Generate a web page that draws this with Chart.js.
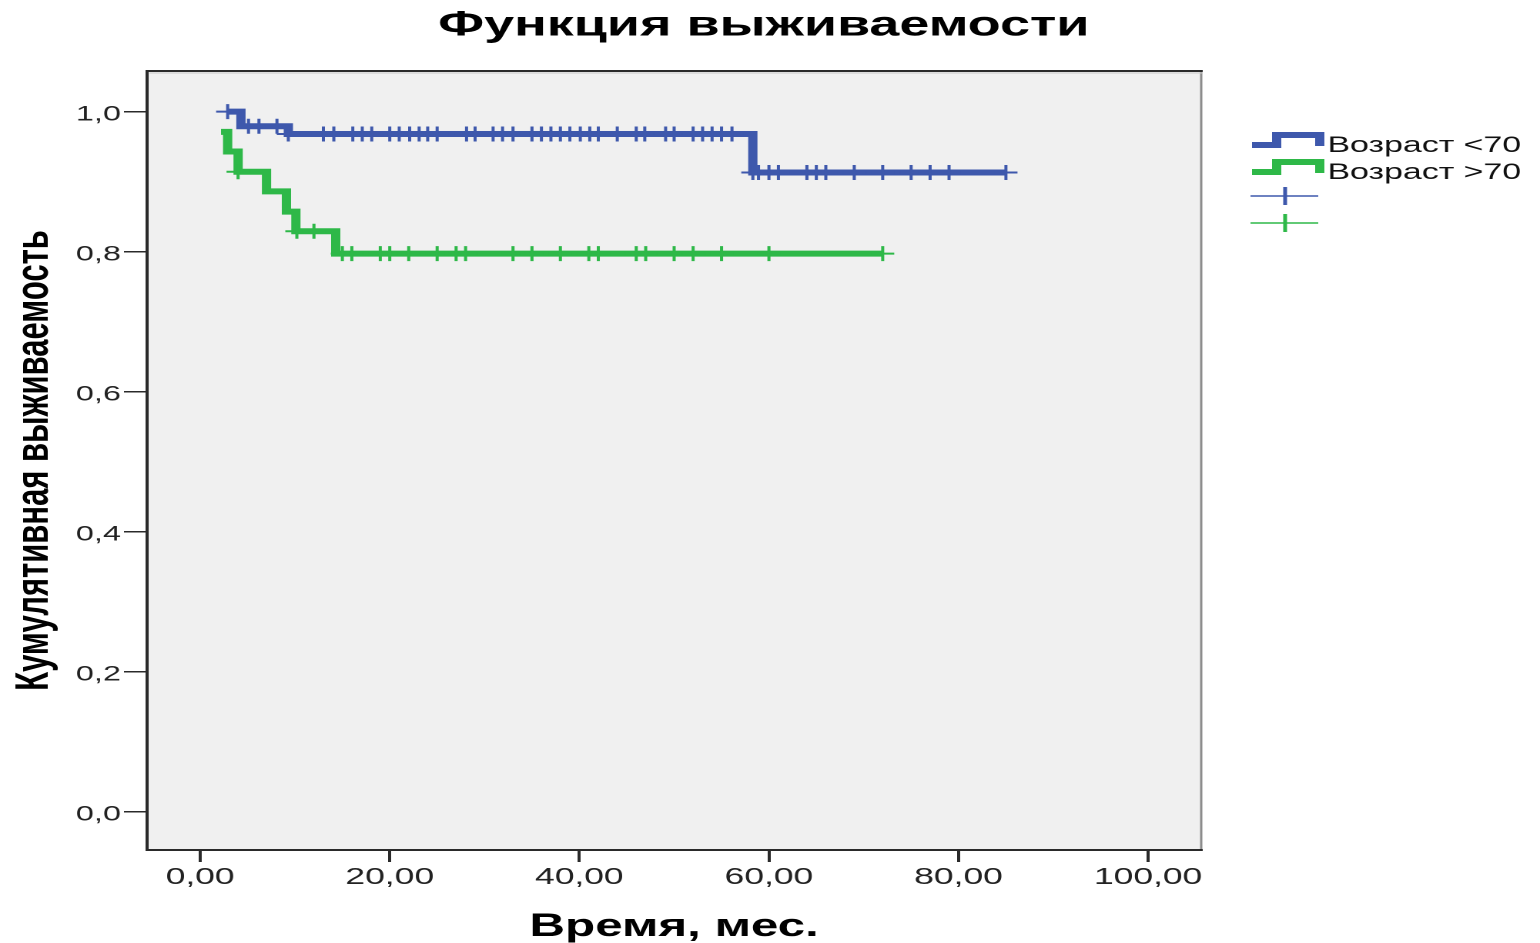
<!DOCTYPE html>
<html lang="ru">
<head>
<meta charset="utf-8">
<title>Функция выживаемости</title>
<script src="https://cdn.jsdelivr.net/npm/chart.js@4.4.1/dist/chart.umd.min.js"></script>
<style>
    html, body { margin: 0; padding: 0; background: #fff; overflow: hidden; }
    /* the original picture is stretched sideways, so the chart is drawn narrow and widened */
    #wrap { width: 1000px; height: 943px; transform: scaleX(1.54); transform-origin: 0 0; }
</style>
</head>
<body>
<div id="wrap"><canvas id="kmChart"></canvas></div>
<script>
// Kaplan-Meier steps (time, cumulative survival)
const blueTimes = [2.9, 4.3, 9.3, 58.3, 85.0];
const blueSurv = [1.0, 0.979, 0.968, 0.913, 0.913];
const blueCensored = [2.9, 5.1, 6.2, 8.1, 9.3, 13.0, 14.1, 16.1, 17.1, 18.1, 20.0, 21.0, 22.1, 23.1,
    24.0, 25.0, 28.1, 29.0, 30.9, 31.9, 33.0, 35.0, 36.0, 37.0, 38.0, 39.0, 40.1, 41.1, 42.0, 44.0,
    46.0, 46.9, 49.1, 50.0, 52.0, 53.0, 54.0, 55.0, 56.1, 58.3, 58.9, 60.0, 61.0, 64.0, 65.0, 66.0,
    69.0, 72.0, 75.0, 77.0, 79.0, 85.0];

const greenTimes = [2.2, 2.9, 4.0, 7.0, 9.1, 10.1, 14.3, 72.0];
const greenSurv = [0.971, 0.943, 0.914, 0.886, 0.857, 0.829, 0.797, 0.797];
const greenCensored = [4.0, 10.2, 12.0, 15.0, 16.0, 19.0, 20.0, 22.0, 25.0, 27.0, 28.0, 33.0, 35.0,
    38.0, 41.0, 42.0, 46.0, 47.0, 50.0, 52.0, 55.0, 60.0, 72.0];

const chartTitle = 'Функция выживаемости';
const groupLabels = ['Возраст <70', 'Возраст >70'];
const groupColors = ['#3e58ac', '#2eb848'];

const xTicks = [0, 20, 40, 60, 80, 100];
const xTickLabels = ['0,00', '20,00', '40,00', '60,00', '80,00', '100,00'];
const yTicks = [0, 0.2, 0.4, 0.6, 0.8, 1.0];
const yTickLabels = ['0,0', '0,2', '0,4', '0,6', '0,8', '1,0'];

Chart.defaults.font.family = '"Liberation Sans", Arial, sans-serif';
Chart.defaults.color = '#1a1a1a';

// survival level of a step curve at time t
function levelAt(times, surv, t) {
    let s = surv[0];
    times.forEach((ti, i) => { if (ti <= t) s = surv[i]; });
    return s;
}

function stepData(times, surv) {
    return times.map((t, i) => ({ x: t, y: surv[i] }));
}

function censorData(times, surv, censored) {
    return censored.map(t => ({ x: t, y: levelAt(times, surv, t) }));
}

// grey plot background and the frame round it
const plotFrame = {
    id: 'plotFrame',
    beforeDraw(chart) {
        const { ctx, chartArea: a } = chart;
        ctx.save();
        ctx.fillStyle = '#f0f0f0';
        ctx.fillRect(a.left, a.top, a.width, a.height);
        ctx.restore();
    },
    afterDatasetsDraw(chart) {
        const { ctx, chartArea: a } = chart;
        ctx.save();
        ctx.lineCap = 'square';
        ctx.strokeStyle = '#8c8c8c';
        ctx.lineWidth = 1.5;
        ctx.beginPath();
        ctx.moveTo(a.right, a.top);
        ctx.lineTo(a.right, a.bottom);
        ctx.stroke();
        ctx.strokeStyle = '#c8c8c8';
        ctx.lineWidth = 1;
        ctx.beginPath();
        ctx.moveTo(a.left + 2, a.top + 2);
        ctx.lineTo(a.right, a.top + 2);
        ctx.stroke();
        ctx.strokeStyle = '#2a2a2a';
        ctx.lineWidth = 2;
        ctx.beginPath();
        ctx.moveTo(a.right, a.top);
        ctx.lineTo(a.left, a.top);
        ctx.lineTo(a.left, a.bottom);
        ctx.lineTo(a.right, a.bottom);
        ctx.stroke();
        ctx.restore();
    }
};

// title centred on the whole picture (the built-in one would skip the legend strip)
const pageTitle = {
    id: 'pageTitle',
    afterDraw(chart) {
        const ctx = chart.ctx;
        ctx.save();
        ctx.fillStyle = '#000';
        ctx.font = 'bold 35px "Liberation Sans", Arial, sans-serif';
        ctx.textAlign = 'center';
        ctx.textBaseline = 'middle';
        ctx.fillText(chartTitle, 496, 26);
        ctx.restore();
    }
};

// SPSS-like legend: step icons with group names, then the censor crosses
const kmLegend = {
    id: 'kmLegend',
    afterDraw(chart) {
        const ctx = chart.ctx;
        const x0 = 813;
        ctx.save();
        ctx.lineJoin = 'miter';
        groupLabels.forEach((label, i) => {
            const y = 145 + i * 27;
            ctx.strokeStyle = groupColors[i];
            ctx.lineWidth = 6;
            ctx.beginPath();
            ctx.moveTo(x0, y);
            ctx.lineTo(x0 + 16, y);
            ctx.lineTo(x0 + 16, y - 10);
            ctx.lineTo(x0 + 44, y - 10);
            ctx.lineTo(x0 + 44, y + 1);
            ctx.stroke();
            ctx.fillStyle = '#111';
            ctx.font = '22px "Liberation Sans", Arial, sans-serif';
            ctx.textBaseline = 'alphabetic';
            ctx.fillText(label, x0 + 49, y + 7);
        });
        groupColors.forEach((color, i) => {
            const y = 196 + i * 27;
            ctx.strokeStyle = color;
            ctx.lineWidth = 1.5;
            ctx.beginPath();
            ctx.moveTo(x0 - 1, y);
            ctx.lineTo(x0 + 43, y);
            ctx.stroke();
            ctx.lineWidth = 2.5;
            ctx.beginPath();
            ctx.moveTo(x0 + 21.5, y - 9);
            ctx.lineTo(x0 + 21.5, y + 9);
            ctx.stroke();
        });
        ctx.restore();
    }
};

const lineStyle = {
    stepped: 'before',
    borderWidth: 6,
    borderJoinStyle: 'miter',
    pointRadius: 0,
    fill: false,
    order: 2
};

const crossStyle = {
    showLine: false,
    pointStyle: 'cross',
    pointRadius: 7.5,
    pointBorderWidth: 2,
    order: 1
};

const ctx = document.getElementById('kmChart').getContext('2d');
new Chart(ctx, {
    type: 'line',
    data: {
        datasets: [
            {
                ...lineStyle,
                label: groupLabels[0],
                data: stepData(blueTimes, blueSurv),
                borderColor: groupColors[0]
            },
            {
                ...lineStyle,
                label: groupLabels[1],
                data: stepData(greenTimes, greenSurv),
                borderColor: groupColors[1]
            },
            {
                ...crossStyle,
                label: '',
                data: censorData(blueTimes, blueSurv, blueCensored),
                borderColor: groupColors[0],
                backgroundColor: groupColors[0]
            },
            {
                ...crossStyle,
                label: '',
                data: censorData(greenTimes, greenSurv, greenCensored),
                borderColor: groupColors[1],
                backgroundColor: groupColors[1]
            }
        ]
    },
    options: {
        responsive: true,
        maintainAspectRatio: false,
        animation: false,
        devicePixelRatio: 2,
        layout: {
            padding: { left: 0, right: 220, top: 71, bottom: 0 }
        },
        plugins: {
            legend: { display: false },
            tooltip: { enabled: false },
            title: { display: false }
        },
        scales: {
            x: {
                type: 'linear',
                min: -5.6,
                max: 105.6,
                afterBuildTicks: scale => { scale.ticks = xTicks.map(v => ({ value: v })); },
                afterFit: scale => { scale.height = 93; },
                ticks: {
                    includeBounds: false,
                    padding: 2,
                    font: { size: 23 },
                    color: '#222',
                    callback: (value, index) => xTickLabels[index]
                },
                grid: {
                    drawOnChartArea: false,
                    drawTicks: true,
                    tickLength: 12,
                    lineWidth: 2,
                    color: '#2a2a2a'
                },
                border: { display: false },
                title: {
                    display: true,
                    text: 'Время, мес.',
                    color: '#000',
                    font: { size: 32, weight: 'bold', lineHeight: 1 },
                    padding: { top: 0, bottom: 0 }
                }
            },
            y: {
                type: 'linear',
                min: -0.055,
                max: 1.058,
                afterBuildTicks: scale => { scale.ticks = yTicks.map(v => ({ value: v })); },
                afterFit: scale => { scale.width = 95.5; },
                ticks: {
                    includeBounds: false,
                    padding: 2,
                    labelOffset: 3,
                    font: { size: 21 },
                    color: '#222',
                    callback: (value, index) => yTickLabels[index]
                },
                grid: {
                    drawOnChartArea: false,
                    drawTicks: true,
                    tickLength: 15,
                    lineWidth: 1.5,
                    color: '#2a2a2a'
                },
                border: { display: false },
                title: {
                    display: true,
                    text: 'Кумулятивная выживаемость',
                    color: '#000',
                    font: { size: 31, weight: 'bold', lineHeight: 1.2 },
                    padding: { top: 4, bottom: 0 }
                }
            }
        }
    },
    plugins: [plotFrame, pageTitle, kmLegend]
});
</script>
</body>
</html>
